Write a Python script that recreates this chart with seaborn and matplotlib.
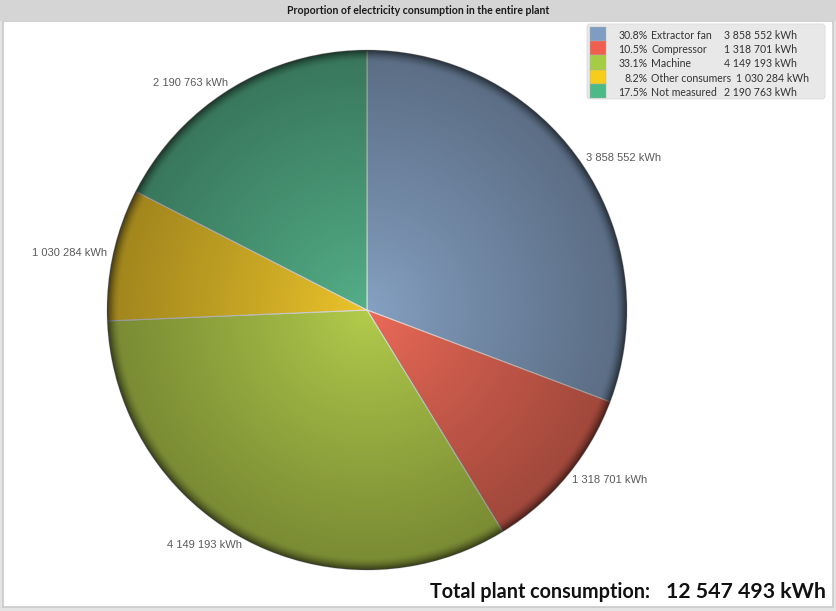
import numpy as np
import seaborn as sns
import matplotlib.pyplot as plt
import matplotlib.transforms as mtransforms
from matplotlib.patches import Rectangle, FancyBboxPatch, Circle

# data
categories = ["Extractor fan", "Compressor", "Machine", "Other consumers", "Not measured"]
consumption_kwh = [3858552, 1318701, 4149193, 1030284, 2190763]
slice_colors = ["#86a1c3", "#ec6a58", "#b3cc4c", "#edc52b", "#54b088"]
legend_colors = ["#7f9cc2", "#ef5e4e", "#a6cc44", "#f7cd1b", "#4db987"]
chart_title = "Proportion of electricity consumption in the entire plant"

sns.set_theme(style="white")
palette = sns.color_palette(slice_colors)


def fmt(v):
    return f"{v:,}".replace(",", " ")


total = sum(consumption_kwh)
shares = [v / total * 100 for v in consumption_kwh]

W, H = 836, 611
fig = plt.figure(figsize=(W / 100, H / 100), dpi=100)
fig.patch.set_facecolor("#e4e4e4")
# pixel coordinates, origin top-left
px = mtransforms.Affine2D().scale(1 / W, -1 / H).translate(0, 1) + fig.transFigure

#____________frame and title bar____________
fig.patches.append(Rectangle((3, 21), 830, 586, transform=px, facecolor="white",
                             edgecolor="#c9c9c9", lw=1.2, zorder=-5))
fig.patches.append(Rectangle((0, 0), W, 21, transform=px, facecolor="#d5d5d5",
                             edgecolor="none", zorder=-4))
fig.text(418 / W, 1 - 10.5 / H, chart_title, ha="center", va="center",
         fontsize=7.6, fontweight="bold", family="Lato", color="#1a1a1a")

#____________pie____________
cx, cy, R = 367, 310, 260
half = 1.2 * R
ax = fig.add_axes([(cx - half) / W, 1 - (cy + half) / H, 2 * half / W, 2 * half / H])
wedges, texts = ax.pie(consumption_kwh, colors=palette, startangle=90, counterclock=False,
                       labels=[fmt(v) + " kWh" for v in consumption_kwh], labeldistance=1.025,
                       wedgeprops=dict(edgecolor="#dedede", linewidth=0.8),
                       textprops=dict(fontsize=8, family="Liberation Sans", color="#5a5a5a"))
ax.set_xlim(-1.2, 1.2)
ax.set_ylim(-1.2, 1.2)
ax.axis("off")
ax.patch.set_visible(False)

# radial shading for the 3d look
n = 700
g = np.linspace(-1, 1, n)
xx, yy = np.meshgrid(g, g)
r = np.hypot(xx, yy)
alpha = 0.33 * r ** 0.9 + 0.38 * np.clip((r - 0.955) / 0.045, 0, 1) ** 1.6
alpha = np.clip(alpha, 0, 0.8)
shade = np.zeros((n, n, 4))
shade[..., 3] = alpha
im = ax.imshow(shade, extent=[-1, 1, -1, 1], origin="lower", interpolation="bilinear", zorder=3)
im.set_clip_path(Circle((0, 0), 1.0, transform=ax.transData))

#____________legend____________
fig.patches.append(FancyBboxPatch((587, 24), 238, 75, transform=px,
                                  boxstyle="round,pad=0,rounding_size=3",
                                  facecolor="#e8e8e8", edgecolor="#dadada", lw=0.6, zorder=2))
fig.canvas.draw()
renderer = fig.canvas.get_renderer()
for i, (name, val, pct, col) in enumerate(zip(categories, consumption_kwh, shares, legend_colors)):
    y0 = 27 + 14.2 * i
    fig.patches.append(Rectangle((590, y0), 16, 14.2, transform=px, facecolor=col,
                                 edgecolor="#b0b0b0", lw=0.3, zorder=3))
    ty = y0 + 8.5
    kw = dict(transform=px, va="center", fontsize=7.6, family="Lato", color="#333333", zorder=4)
    fig.text(648, ty, f"{pct:.1f}%", ha="right", **kw)
    t = fig.text(651, ty, name, ha="left", **kw)
    bb = t.get_window_extent(renderer)
    vx = max(724, bb.x1 + 5)
    fig.text(vx, ty, fmt(val) + " kWh", ha="left", **kw)

#____________total____________
fig.text(650, 598, "Total plant consumption:", transform=px, ha="right", va="baseline",
         fontsize=14.2, fontweight="bold", family="Lato", color="#111111")
fig.text(666, 598, fmt(total) + " kWh", transform=px, ha="left", va="baseline",
         fontsize=15.3, fontweight="bold", family="Lato", color="#111111")

fig.savefig("out.png", dpi=100, facecolor=fig.get_facecolor())
